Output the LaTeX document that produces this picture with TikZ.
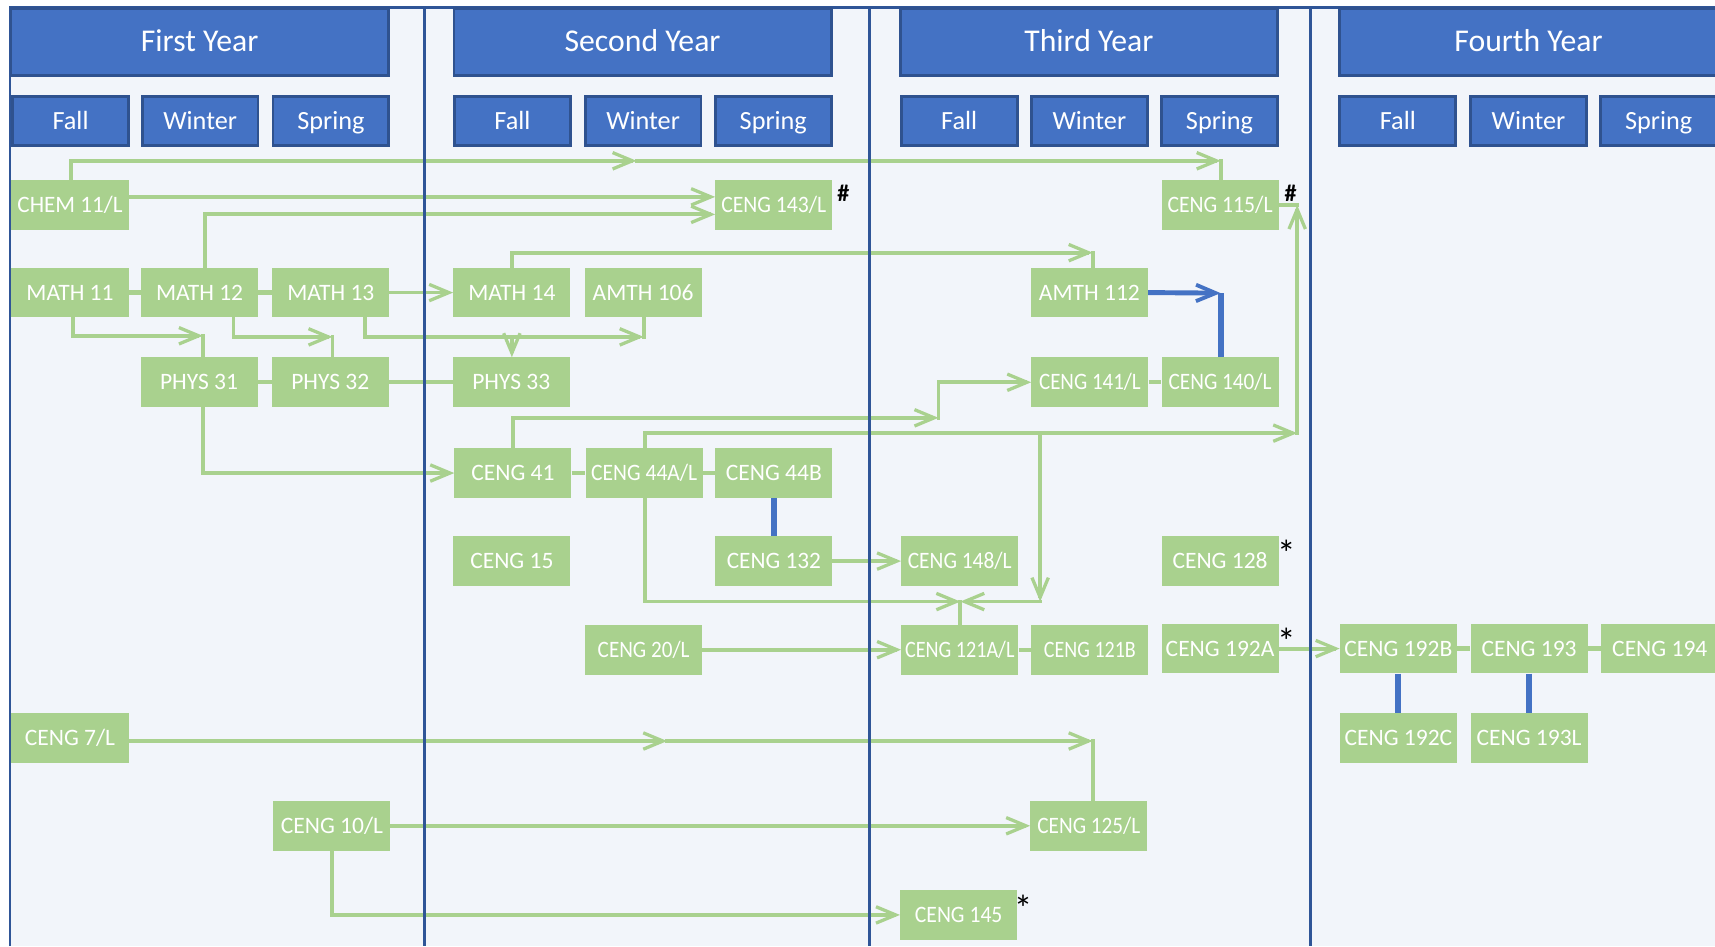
\documentclass[tikz,border=0pt]{standalone}
\usepackage{fontspec}
\setmainfont{Carlito}
\usetikzlibrary{arrows.meta}
\definecolor{bgc}{HTML}{F2F5FA}
\definecolor{hdr}{HTML}{4472C4}
\definecolor{hdrline}{HTML}{2F528F}
\definecolor{sepc}{HTML}{2F5597}
\definecolor{grn}{HTML}{A9D18E}
\definecolor{bluec}{HTML}{4472C4}
\newsavebox\fitbox
\newcommand\fitw[2][96]{\sbox\fitbox{#2}\ifdim\wd\fitbox>#1pt\relax\resizebox{#1pt}{\ht\fitbox}{\usebox\fitbox}\else\usebox\fitbox\fi}
\pgfdeclarelayer{bg}\pgfdeclarelayer{lines}\pgfsetlayers{bg,lines,main}
\begin{document}
\begin{tikzpicture}[x=1pt,y=-1pt,
  yearbox/.style={draw=hdrline,line width=2.5pt,fill=hdr,text=white,minimum width=345pt,minimum height=61pt,inner sep=0pt,font=\fontsize{29}{31}\selectfont,text height=18pt,text depth=0pt},
  sembox/.style={draw=hdrline,line width=2.5pt,fill=hdr,text=white,minimum width=106pt,minimum height=45pt,inner sep=0pt,font=\fontsize{24}{26}\selectfont,text height=15pt,text depth=0pt},
  course/.style={fill=grn,text=white,minimum width=107pt,minimum height=45.5pt,inner sep=0pt,font=\fontsize{21.5}{24}\selectfont,text height=13.6pt,text depth=0pt},
  annot/.style={text=black,inner sep=0pt,anchor=north,font=\fontsize{22}{24}\selectfont\bfseries},
  star/.style={text=black,inner sep=0pt,anchor=north,font=\fontsize{34}{36}\selectfont},
  conn/.style={draw=grn,line width=3.5pt,line cap=rect},
  arr/.style={conn,-{Straight Barb[length=18pt,width=15pt,line width=3pt]}},
  link/.style={draw=grn,line width=4pt},
  bl/.style={draw=bluec,line width=5.5pt},
  blarr/.style={draw=bluec,line width=4.5pt,-{Straight Barb[length=18pt,width=15pt,line width=3.5pt]}},
  sepline/.style={draw=sepc,line width=2.8pt},
  frameline/.style={draw=sepc,line width=2.2pt}]
\path[use as bounding box] (0,0) rectangle (1568,865);
\begin{pgfonlayer}{bg}
\fill[white] (0,0) rectangle (1568,865);
\fill[bgc] (9,7) rectangle (1568,865);
\end{pgfonlayer}
\draw[frameline] (9,865) -- (9,7) -- (1568,7);
\foreach \x in {388,795,1198} \draw[sepline] (\x,7) -- (\x,865);
% headers
\node[yearbox] (y1) at (182.5,38.5) {First Year};
\node[yearbox] (y2) at (587.5,38.5) {Second Year};
\node[yearbox] (y3) at (995.5,38.5) {Third Year};
\node[yearbox] (y4) at (1397.5,38.5) {Fourth Year};
\foreach \x/\n/\t in {64.5/s1f/Fall,183/s1w/Winter,302.5/s1s/Spring,
  468.5/s2f/Fall,588/s2w/Winter,707/s2s/Spring,
  877/s3f/Fall,996/s3w/Winter,1115/s3s/Spring,
  1278/s4f/Fall,1397.5/s4w/Winter,1516.5/s4s/Spring}
  \node[sembox] (\n) at (\x,110.5) {\t};
% courses
\node[course] (chem) at (64,187.5) {\fitw{CHEM 11/L}};
\node[course] (c143) at (707.5,187.5) {\fitw{CENG 143/L}};
\node[course] (c115) at (1115.5,187.5) {\fitw{CENG 115/L}};
\node[course] (m11) at (64,267.5) {\fitw{MATH 11}};
\node[course] (m12) at (182.5,267.5) {\fitw{MATH 12}};
\node[course] (m13) at (302.5,267.5) {\fitw{MATH 13}};
\node[course] (m14) at (468,267.5) {\fitw{MATH 14}};
\node[course] (a106) at (588,267.5) {\fitw{AMTH 106}};
\node[course] (a112) at (996,267.5) {\fitw{AMTH 112}};
\node[course] (p31) at (182,349.5) {\fitw{PHYS 31}};
\node[course] (p32) at (302,349.5) {\fitw{PHYS 32}};
\node[course] (p33) at (467.5,349.5) {\fitw{PHYS 33}};
\node[course] (c141) at (996.5,349.5) {\fitw[93]{CENG 141/L}};
\node[course] (c140) at (1115.5,349.5) {\fitw[94]{CENG 140/L}};
\node[course] (c41) at (469,432.5) {\fitw{CENG 41}};
\node[course] (c44a) at (589,432.5) {\fitw[97]{CENG 44A/L}};
\node[course] (c44b) at (707.5,432.5) {\fitw{CENG 44B}};
\node[course] (c15) at (468,513) {\fitw{CENG 15}};
\node[course] (c132) at (707.5,513) {\fitw[86]{CENG 132}};
\node[course] (c148) at (877.5,513) {\fitw[95]{CENG 148/L}};
\node[course] (c128) at (1115.5,513) {\fitw[88]{CENG 128}};
\node[course] (c20) at (588.5,594) {\fitw[84]{CENG 20/L}};
\node[course] (c121a) at (877.5,594) {\fitw[100]{CENG 121A/L}};
\node[course] (c121b) at (996.5,594) {\fitw[84]{CENG 121B}};
\node[course] (c192a) at (1115.5,593) {\fitw[100]{CENG 192A}};
\node[course] (c192b) at (1278.5,593) {\fitw[100]{CENG 192B}};
\node[course] (c193) at (1398,593) {\fitw{CENG 193}};
\node[course] (c194) at (1517.5,593) {\fitw{CENG 194}};
\node[course] (c7) at (64,674.5) {\fitw{CENG 7/L}};
\node[course] (c192c) at (1278.5,675) {\fitw[100]{CENG 192C}};
\node[course] (c193l) at (1398,675) {\fitw[97]{CENG 193L}};
\node[course] (c10) at (303.5,755) {\fitw[95]{CENG 10/L}};
\node[course] (c125) at (995.5,755) {\fitw[94]{CENG 125/L}};
\node[course] (c145) at (876.5,836.5) {\fitw[80]{CENG 145}};
% annotations
\node[annot] (h1) at (771,169) {\#};
\node[annot] (h2) at (1180,169) {\#};
\node[star] (st1) at (1176,494) {*};
\node[star] (st2) at (1176,574) {*};
\node[star] (st3) at (935.5,818) {*};
% connector coordinates
\coordinate (t1) at (582,147);
\coordinate (t2) at (1116,147);
\coordinate (k1) at (185.5,307);
\coordinate (k2) at (304,308);
\coordinate (k3) at (588.5,308);
\coordinate (k4) at (468,308);
\coordinate (k5) at (999,231);
\coordinate (b1) at (1116,268);
\coordinate (d1) at (858,382);
\coordinate (e1) at (1186,396);
\coordinate (e3) at (951,396);
\coordinate (e4) at (951,550);
\coordinate (e5) at (878,550);
\coordinate (g1) at (610,677.5);
\coordinate (g2) at (999,677.5);
\begin{pgfonlayer}{lines}
\draw[arr] ([xshift=1pt]chem.north) |- (t1);
\draw[arr] (t1) -- (t2);
\draw[conn] (t2) -- (t2 |- c115.north);
\draw[arr] ([yshift=7.5pt]chem.east) -- ([yshift=7.5pt]c143.west);
\draw[arr] ([xshift=5pt]m12.north) |- ([yshift=-8.5pt]c143.west);
\draw[link] (m11) -- (m12);
\draw[link] (m12) -- (m13);
\draw[arr] (m13) -- (m14);
\draw[arr] ([xshift=3pt]m11.south) |- (k1);
\draw[conn] (k1) -- (k1 |- p31.north);
\draw[arr] ([xshift=31pt]m12.south) |- (k2);
\draw[conn] (k2) -- (k2 |- p32.north);
\draw[arr] ([xshift=31pt]m13.south) |- (k3);
\draw[conn] (k3) -- (k3 |- a106.south);
\draw[arr] (k4) -- (k4 |- p33.north);
\draw[link] (p31) -- (p32);
\draw[link] (p32) -- (p33);
\draw[arr] ([xshift=3.5pt]p31.south) |- (c41.west);
\draw[arr] (m14.north) |- (k5);
\draw[conn] (k5) -- (k5 |- a112.north);
\draw[blarr] (a112.east) -- (b1);
\draw[bl] (b1 |- c140.north) -- (b1);
\draw[link] (c141) -- (c140);
\draw[arr] (c41.north) |- (d1);
\draw[arr] (d1) |- (c141.west);
\draw[arr] ([xshift=1pt]c44a.north) |- (e1);
\draw[arr] (e1) -- (e1 |- c115.east);
\draw[conn] (c115.east) -- (e1 |- c115.east);
\draw[arr] (e3) -- (e4);
\draw[arr] (e4) -- (e5);
\draw[arr] ([xshift=1pt]c44a.south) |- (e5);
\draw[conn] (c121a.north) -- (c121a.north |- e5);
\draw[link] (c41) -- (c44a);
\draw[link] (c44a) -- (c44b);
\draw[bl] (c44b) -- (c132);
\draw[arr] (c132) -- (c148);
\draw[arr] (c20) -- (c121a);
\draw[link] (c121a) -- (c121b);
\draw[arr] (c192a) -- (c192b);
\draw[link] (c192b) -- (c193);
\draw[link] (c193) -- (c194);
\draw[bl] (c192b) -- (c192c);
\draw[bl] (c193) -- (c193l);
\draw[arr] ([yshift=-3pt]c7.east) -- (g1);
\draw[arr] (g1) -- (g2);
\draw[conn] (g2) -- (g2 |- c125.north);
\draw[arr] (c10) -- (c125);
\draw[arr] (c10.south) |- (c145.west);
\end{pgfonlayer}
\end{tikzpicture}
\end{document}
